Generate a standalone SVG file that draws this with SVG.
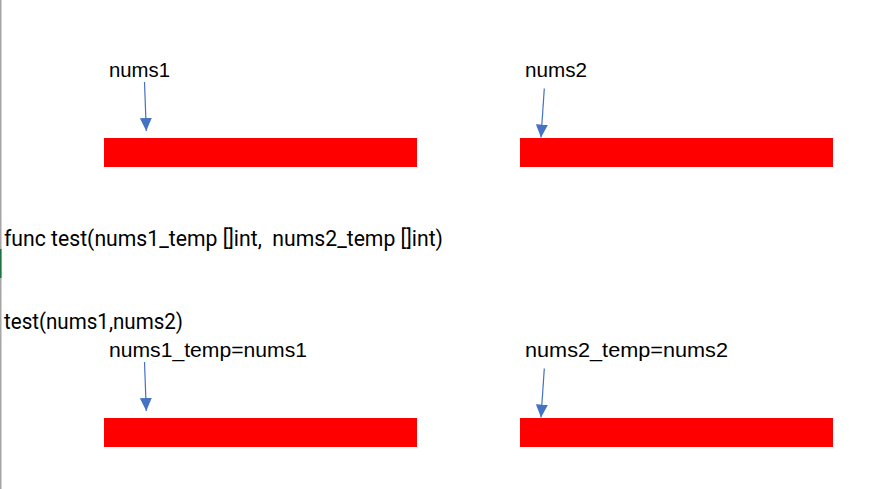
<svg xmlns="http://www.w3.org/2000/svg" width="896" height="489" viewBox="0 0 896 489">
<style>
.bar{fill:#ff0000}
.lbl{font-family:"Liberation Sans",Arial,sans-serif;font-size:20px;fill:#000}
.code{font-family:Roboto,"Liberation Sans",sans-serif;font-size:22px;fill:#000;white-space:pre}
.arr{stroke:#4472c4;stroke-width:1.2;fill:none;marker-end:url(#ah)}
</style>
<defs>
<marker id="ah" markerUnits="userSpaceOnUse" markerWidth="14" markerHeight="12" refX="13" refY="6" orient="auto">
<path d="M0,0 L13,6 L0,12 z" fill="#4472c4"/>
</marker>
</defs>
<rect x="0" y="0" width="896" height="489" fill="#ffffff"/>
<rect x="0" y="0" width="1.5" height="489" fill="#a6a6a6"/>
<rect x="0" y="249" width="1.5" height="29" fill="#217346"/>
<g id="nums1">
<text class="lbl" x="109" y="77" textLength="61" lengthAdjust="spacingAndGlyphs">nums1</text>
<rect class="bar" x="104" y="138" width="313" height="29"/>
</g>
<g id="nums2">
<text class="lbl" x="525" y="77" textLength="62" lengthAdjust="spacingAndGlyphs">nums2</text>
<rect class="bar" x="520" y="138" width="313" height="29"/>
</g>
<g id="func">
<text class="code" x="4" y="246" textLength="439" lengthAdjust="spacingAndGlyphs" xml:space="preserve">func test(nums1_temp []int,  nums2_temp []int)</text>
</g>
<g id="call">
<text class="code" x="4" y="329" textLength="179" lengthAdjust="spacingAndGlyphs">test(nums1,nums2)</text>
</g>
<g id="nums1_temp">
<text class="lbl" x="109" y="357" textLength="198" lengthAdjust="spacingAndGlyphs">nums1_temp=nums1</text>
<rect class="bar" x="104" y="418" width="313" height="29"/>
</g>
<g id="nums2_temp">
<text class="lbl" x="525" y="357" textLength="203" lengthAdjust="spacingAndGlyphs">nums2_temp=nums2</text>
<rect class="bar" x="520" y="418" width="313" height="29"/>
</g>
<g id="connectors">
<line class="arr" x1="144.5" y1="82" x2="146.3" y2="131"/>
<line class="arr" x1="544.3" y1="88.5" x2="541" y2="137.5"/>
<line class="arr" x1="144.5" y1="362" x2="146.3" y2="411"/>
<line class="arr" x1="544.3" y1="368.5" x2="541" y2="417.5"/>
</g>
</svg>
